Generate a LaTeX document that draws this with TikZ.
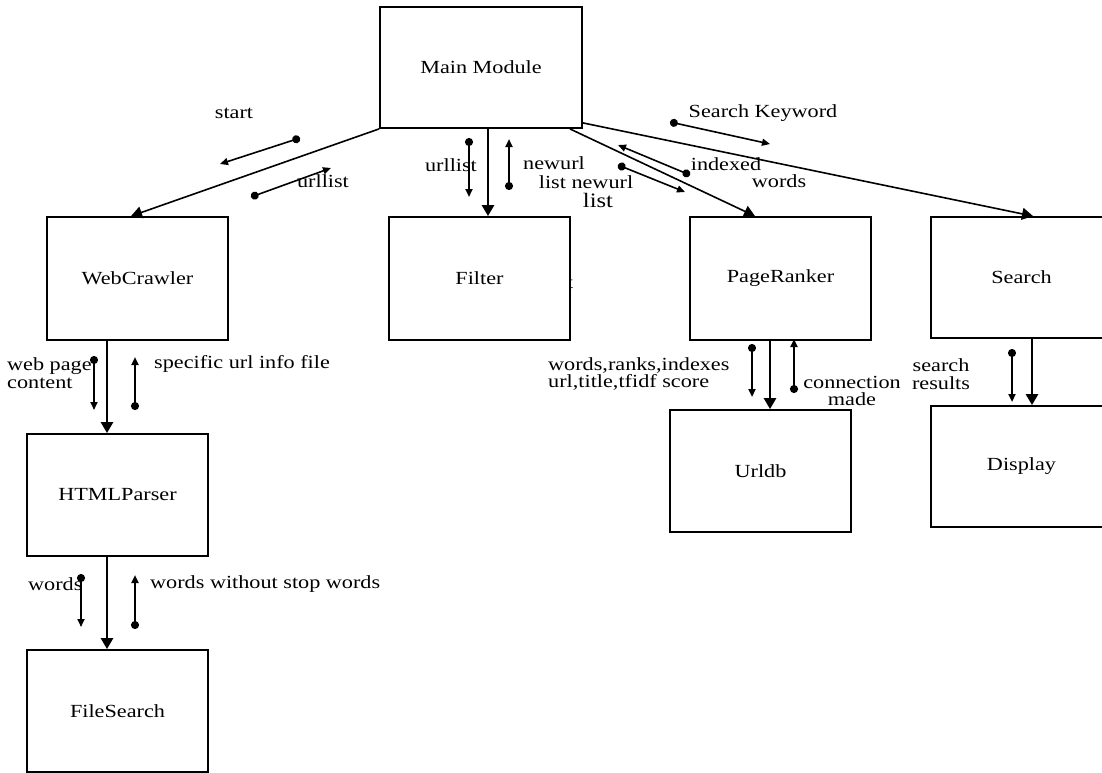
\documentclass[tikz,border=0pt]{standalone}
\usepackage{fontspec}
\setmainfont{Liberation Serif}[FakeStretch=1.2]
\usetikzlibrary{arrows.meta,calc}
\newcommand{\labfont}{\fontsize{18.5}{17.5}\selectfont}
\newcommand{\bigfont}{\fontsize{20.5}{22}\selectfont}
\begin{document}
\begin{tikzpicture}[x=1pt,y=-1pt,
  box/.style={draw,line width=1.8pt,fill=white,minimum width=181pt,minimum height=122pt,inner sep=0pt,font=\labfont},
  lbl/.style={inner sep=0pt,font=\labfont},
  conn/.style={line width=1.6pt,-{Triangle[length=11pt,width=12pt]}},
  trunk/.style={line width=2.6pt,-{Triangle[length=11pt,width=12pt]}},
  msg/.style={line width=1.6pt,{Circle[length=8pt]}-{Triangle[length=8pt,width=7pt]}},
  vmsg/.style={line width=2pt,{Circle[length=8pt]}-{Triangle[length=8pt,width=7pt]}}]
\useasboundingbox (0,0) rectangle (1102,772);
\clip (0,0) rectangle (1102,772);
% boxes
\node[box,minimum width=202pt,minimum height=121pt] (main) at (481,67.5) {Main Module};
\node[box,minimum height=123pt] (wc) at (137.5,278.5) {WebCrawler};
\node[lbl] (tstray) at (570,283) {t};
\node[box,minimum height=123pt] (filter) at (479.5,278.5) {Filter};
\node[box,minimum height=123pt] (pr) at (780.5,278.5) {PageRanker};
\node[box,minimum height=121pt] (search) at (1021.5,277.5) {Search};
\node[box,minimum height=121pt] (display) at (1021.5,466.5) {Display};
\node[box] (urldb) at (760.5,471) {Urldb};
\node[box] (html) at (117.5,495) {HTMLParser};
\node[box] (fs) at (117.5,711) {FileSearch};
% main connectors
\draw[conn] (main.south west) -- ([xshift=-6.5pt]wc.north);
\draw[trunk] ([xshift=7pt]main.south) -- ([xshift=8.5pt]filter.north);
\draw[conn] ([xshift=-13pt]main.south east) -- ([xshift=-25.5pt]pr.north);
\draw[conn] ($(main.south east)+(0,-6)$) -- ([xshift=11.5pt]search.north);
\draw[trunk] ([xshift=-30.5pt]wc.south) -- ([xshift=-30.5pt]wc.south |- html.north);
\draw[trunk] ([xshift=-10.5pt]html.south) -- ([xshift=-10.5pt]html.south |- fs.north);
\draw[trunk] ([xshift=-10.5pt]pr.south) -- ([xshift=-10.5pt]pr.south |- urldb.north);
\draw[trunk] ([xshift=10.5pt,yshift=2pt]search.south) -- ([xshift=10.5pt]search.south |- display.north);
% message arrows
\coordinate (m1s) at (300,138); \coordinate (m1e) at (220,164);
\coordinate (m2s) at (251,197); \coordinate (m2e) at (331,168);
\coordinate (m3s) at (469,138); \coordinate (m3e) at (469,197);
\coordinate (m4s) at (509,190); \coordinate (m4e) at (509,139);
\coordinate (m5s) at (618,165); \coordinate (m5e) at (685,192);
\coordinate (m6s) at (690,175); \coordinate (m6e) at (618,145);
\coordinate (m7s) at (670,122); \coordinate (m7e) at (770,144);
\coordinate (m8s) at (94,356); \coordinate (m8e) at (94,410);
\coordinate (m9s) at (135,410); \coordinate (m9e) at (135,357);
\coordinate (m10s) at (81,574); \coordinate (m10e) at (81,627);
\coordinate (m11s) at (135,629); \coordinate (m11e) at (135,575);
\coordinate (m12s) at (752,344); \coordinate (m12e) at (752,397);
\coordinate (m13s) at (794,393); \coordinate (m13e) at (794,339);
\coordinate (m14s) at (1012,349); \coordinate (m14e) at (1012,402);
\draw[msg] (m1s) -- (m1e);
\draw[msg] (m2s) -- (m2e);
\draw[vmsg] (m3s) -- (m3e);
\draw[vmsg] (m4s) -- (m4e);
\draw[msg] (m5s) -- (m5e);
\draw[msg] (m6s) -- (m6e);
\draw[msg] (m7s) -- (m7e);
\draw[vmsg] (m8s) -- (m8e);
\draw[vmsg] (m9s) -- (m9e);
\draw[vmsg] (m10s) -- (m10e);
\draw[vmsg] (m11s) -- (m11e);
\draw[vmsg] (m12s) -- (m12e);
\draw[vmsg] (m13s) -- (m13e);
\draw[vmsg] (m14s) -- (m14e);
% labels
\node[lbl] (lstart) at (234,113) {start};
\node[lbl] (lurl1) at (323,181) {urllist};
\node[lbl] (lurl2) at (451,165) {urllist};
\node[lbl] (lnew1) at (554,163) {newurl};
\node[lbl] (lnew2) at (586,182) {list newurl};
\node[lbl,font=\bigfont] (llist) at (598,200) {list};
\node[lbl] (lsk) at (763,113) {Search Keyword};
\node[lbl] (lidx) at (726,164) {indexed};
\node[lbl] (lwords1) at (779,181) {words};
\node[lbl,anchor=west,align=left] (lweb) at (7,373) {web page\\content};
\node[lbl,anchor=west] (lspec) at (154,364) {specific url info file};
\node[lbl,anchor=west] (lwords2) at (28,584) {words};
\node[lbl,anchor=west] (lwws) at (150,584) {words without stop words};
\node[lbl,anchor=west,align=left] (lwri) at (548,374) {words,ranks,indexes\\url,title,tfidf score};
\node[lbl,align=center] (lconn) at (852,391) {connection\\made};
\node[lbl,align=center] (lsr) at (941,374) {search\\results};
\end{tikzpicture}
\end{document}
